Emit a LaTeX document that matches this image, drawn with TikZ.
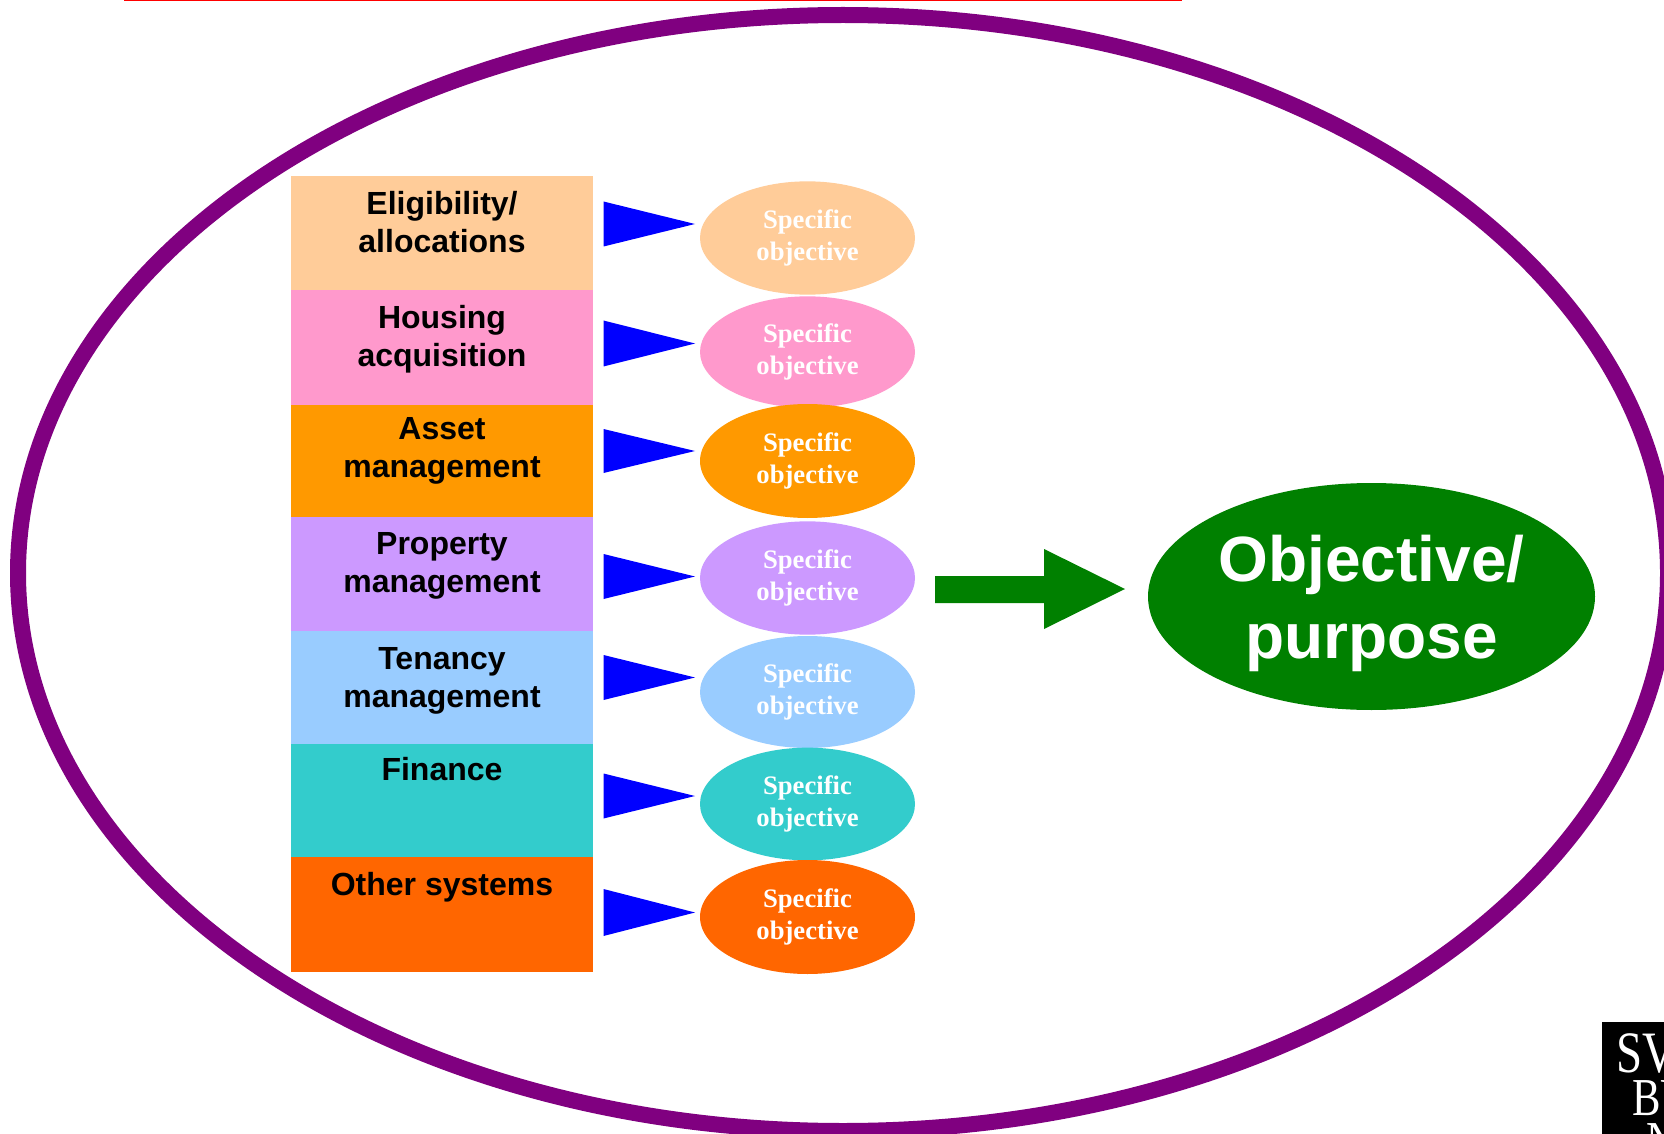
\documentclass[tikz,border=0pt]{standalone}
\usepackage{fontspec}
\setmainfont{Liberation Sans}
\newfontfamily\serifface{Liberation Serif}
\usetikzlibrary{shapes.geometric}
\definecolor{cPeach}{HTML}{FFCC99}
\definecolor{cPink}{HTML}{FF99CC}
\definecolor{cAmber}{HTML}{FF9900}
\definecolor{cLilac}{HTML}{CC99FF}
\definecolor{cSky}{HTML}{99CCFF}
\definecolor{cTeal}{HTML}{33CCCC}
\definecolor{cDeep}{HTML}{FF6600}
\definecolor{cPurple}{HTML}{800080}
\definecolor{cGreen}{HTML}{008000}
% box text: height (px), drop to first baseline (px), text
\newcommand{\boxtext}[3]{\parbox[c][\dimexpr 0.75pt*#1\relax][t]{226.5pt}{\centering\fontsize{24pt}{28.5pt}\selectfont\bfseries\vspace*{\dimexpr 0.75pt*#2-17.5pt\relax}\par #3}}
\tikzset{
  x=0.75pt,y=-0.75pt,
  bandbox/.style={inner sep=0pt,outer sep=0pt,anchor=north west,text=black},
  specific/.style={ellipse,inner sep=0pt,outer sep=0pt,minimum width=161.25pt,text=white,align=center,
    font=\serifface\bfseries\fontsize{20pt}{24pt}\selectfont},
  wedge/.style={fill=blue},
  purpose/.style={ellipse,fill=cGreen,inner sep=0pt,outer sep=0pt,minimum width=335.25pt,minimum height=170.25pt,
    text=white,align=center,font=\bfseries\fontsize{48pt}{58pt}\selectfont},
  ring/.style={ellipse,draw=cPurple,line width=12pt,inner sep=0pt,outer sep=0pt,minimum width=1237.5pt,minimum height=837pt},
  logotext/.style={text=white,inner sep=0pt,anchor=base west,font=\serifface}
}
\newcommand{\wedgeshape}[2]{\fill[wedge] (603.5,#1) -- (695,#2) -- (603.5,2*#2-#1) -- cycle;}
\begin{document}
\begin{tikzpicture}
\useasboundingbox (0,0) rectangle (1664,1134);
\clip (0,0) rectangle (1664,1134);
\fill[white] (0,0) rectangle (1664,1134);
\coordinate (redA) at (124,0.8);
\coordinate (redB) at (1182,0.8);
\draw[red,line width=1pt] (redA) -- (redB);
\node[ring] (outer) at (843,573) {};

\node[bandbox,fill=cPeach] (b1) at (291,176) {\boxtext{115}{39}{Eligibility/\\allocations}};
\node[bandbox,fill=cPink] (b2) at (291,290.5) {\boxtext{114}{38}{Housing\\acquisition}};
\node[bandbox,fill=cAmber] (b3) at (291,404.5) {\boxtext{112}{36}{Asset\\management}};
\node[bandbox,fill=cLilac] (b4) at (291,516.5) {\boxtext{114}{39}{Property\\management}};
\node[bandbox,fill=cSky] (b5) at (291,630.5) {\boxtext{113}{40}{Tenancy\\management}};
\node[bandbox,fill=cTeal] (b6) at (291,743.5) {\boxtext{114}{37}{Finance}};
\node[bandbox,fill=cDeep] (b7) at (291,857) {\boxtext{115}{39}{Other systems}};

\node[specific,fill=cPeach,minimum height=85pt] (o1) at (807.5,238) {Specific\\objective};
\node[specific,fill=cPink,minimum height=83.5pt] (o2) at (807.5,352) {Specific\\objective};
\node[specific,fill=cAmber,minimum height=85.5pt] (o3) at (807.5,461) {Specific\\objective};
\node[specific,fill=cLilac,minimum height=85pt] (o4) at (807.5,578) {Specific\\objective};
\node[specific,fill=cSky,minimum height=84pt] (o5) at (807.5,692) {Specific\\objective};
\node[specific,fill=cTeal,minimum height=84.5pt] (o6) at (807.5,804) {Specific\\objective};
\node[specific,fill=cDeep,minimum height=85.5pt] (o7) at (807.5,917) {Specific\\objective};

\wedgeshape{201.5}{224}
\wedgeshape{320.5}{343.5}
\wedgeshape{429}{451}
\wedgeshape{554}{576.5}
\wedgeshape{655}{677.5}
\wedgeshape{773.5}{796}
\wedgeshape{889}{912.5}

\fill[cGreen] (935,576) -- (1044,576) -- (1044,549) -- (1125,589) -- (1044,629) -- (1044,603) -- (935,603) -- cycle;
\node[purpose] (goal) at (1371.5,596.5) {\rule{0pt}{45pt}Objective/\\purpose};

\fill[black] (1602,1022) rectangle (1664,1134);
\node[logotext,xscale=0.8] (logoA) at (1616,1072) {\fontsize{44pt}{44pt}\selectfont SV};
\node[logotext,xscale=0.8] (logoB) at (1632,1115) {\fontsize{40pt}{40pt}\selectfont BU};
\node[logotext,xscale=0.8] (logoC) at (1646,1158) {\fontsize{40pt}{40pt}\selectfont N};
\end{tikzpicture}
\end{document}
